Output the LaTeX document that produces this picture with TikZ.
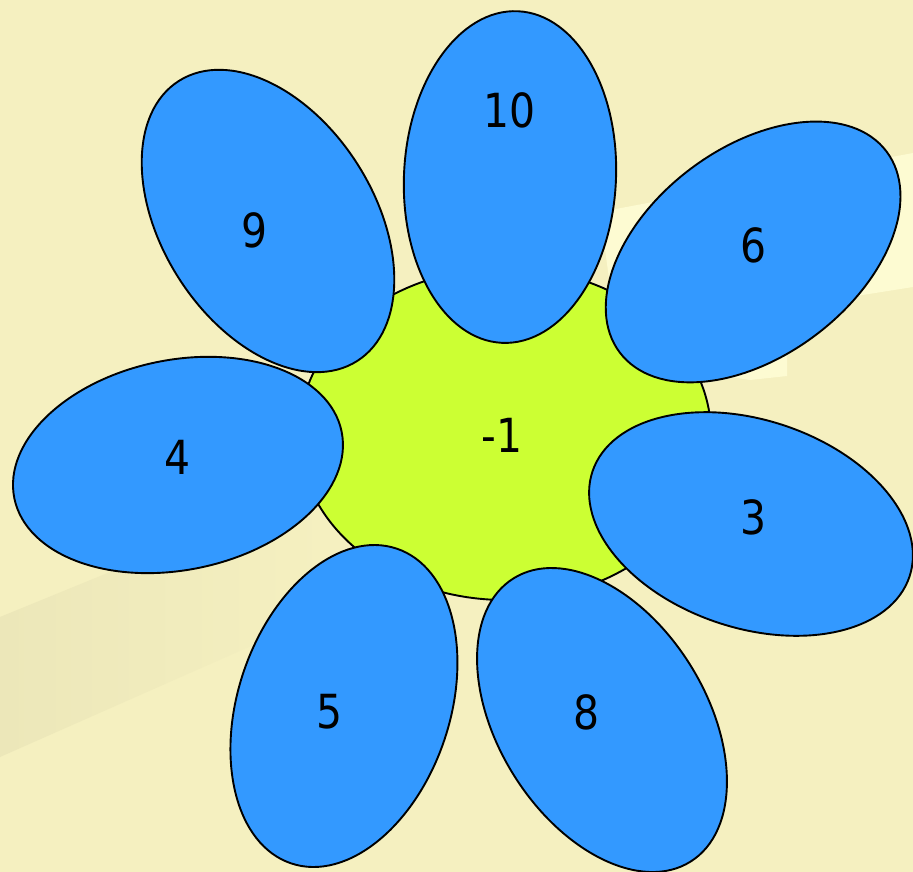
\documentclass[tikz,border=0pt]{standalone}
\usepackage{fontspec}
\setmainfont{DejaVu Sans}[FakeStretch=0.87]
\definecolor{bgyellow}{RGB}{245,240,192}
\definecolor{bgdark}{RGB}{236,231,185}
\definecolor{bglight}{RGB}{253,251,210}
\definecolor{petalblue}{RGB}{51,153,255}
\definecolor{centergreen}{RGB}{204,255,51}
\begin{document}
\begin{tikzpicture}[x=1pt,y=-1pt,
  outline/.style={draw=black, line width=1.9pt},
  petal/.style={outline, fill=petalblue},
  lbl/.style={font=\fontsize{47}{56}\selectfont, inner sep=0pt, text=black}]
\useasboundingbox (0,0) rectangle (913,872);
\fill[bgyellow] (0,0) rectangle (913,872);
% faint background bands
\begin{scope}
  \clip (0,617) -- (330,482) -- (330,611) -- (0,757) -- cycle;
  \shade[left color=bgdark, right color=bgyellow] (0,470) rectangle (330,760);
\end{scope}
\fill[bglight] (600,212) -- (913,153) -- (913,287) -- (850,297) -- (787,352) -- (787,376) -- (750,380) -- (620,360) -- cycle;
% centre
\coordinate (c) at (505,434);
\draw[outline, fill=centergreen] (c) ellipse [x radius=206, y radius=166];
% petals
\coordinate (p10) at (510,177);
\coordinate (p9) at (268,221);
\coordinate (p6) at (753,252);
\coordinate (p4) at (178,465);
\coordinate (p3) at (751,524);
\coordinate (p8) at (602,720);
\coordinate (p5) at (344,706);
\draw[petal, rotate around={87.2:(p10)}] (p10) ellipse [x radius=166, y radius=106];
\draw[petal, rotate around={-57.5:(p9)}] (p9) ellipse [x radius=166, y radius=106];
\draw[petal, rotate around={37:(p6)}] (p6) ellipse [x radius=167, y radius=104];
\draw[petal, rotate around={11.5:(p4)}] (p4) ellipse [x radius=167, y radius=105];
\draw[petal, rotate around={-18.3:(p3)}] (p3) ellipse [x radius=167, y radius=104];
\draw[petal, rotate around={-58:(p8)}] (p8) ellipse [x radius=167, y radius=104];
\draw[petal, rotate around={71.5:(p5)}] (p5) ellipse [x radius=166, y radius=106];
% labels
\node[lbl] (t10) at (510,110) {10};
\node[lbl] (t9) at (255,230) {9};
\node[lbl] (t6) at (753,245) {6};
\node[lbl] (t4) at (178,457) {4};
\node[lbl] (t3) at (753,517) {3};
\node[lbl] (t5) at (330,712) {5};
\node[lbl] (t8) at (587,712) {8};
\node[lbl] (tc) at (502,435) {-1};
\end{tikzpicture}
\end{document}
